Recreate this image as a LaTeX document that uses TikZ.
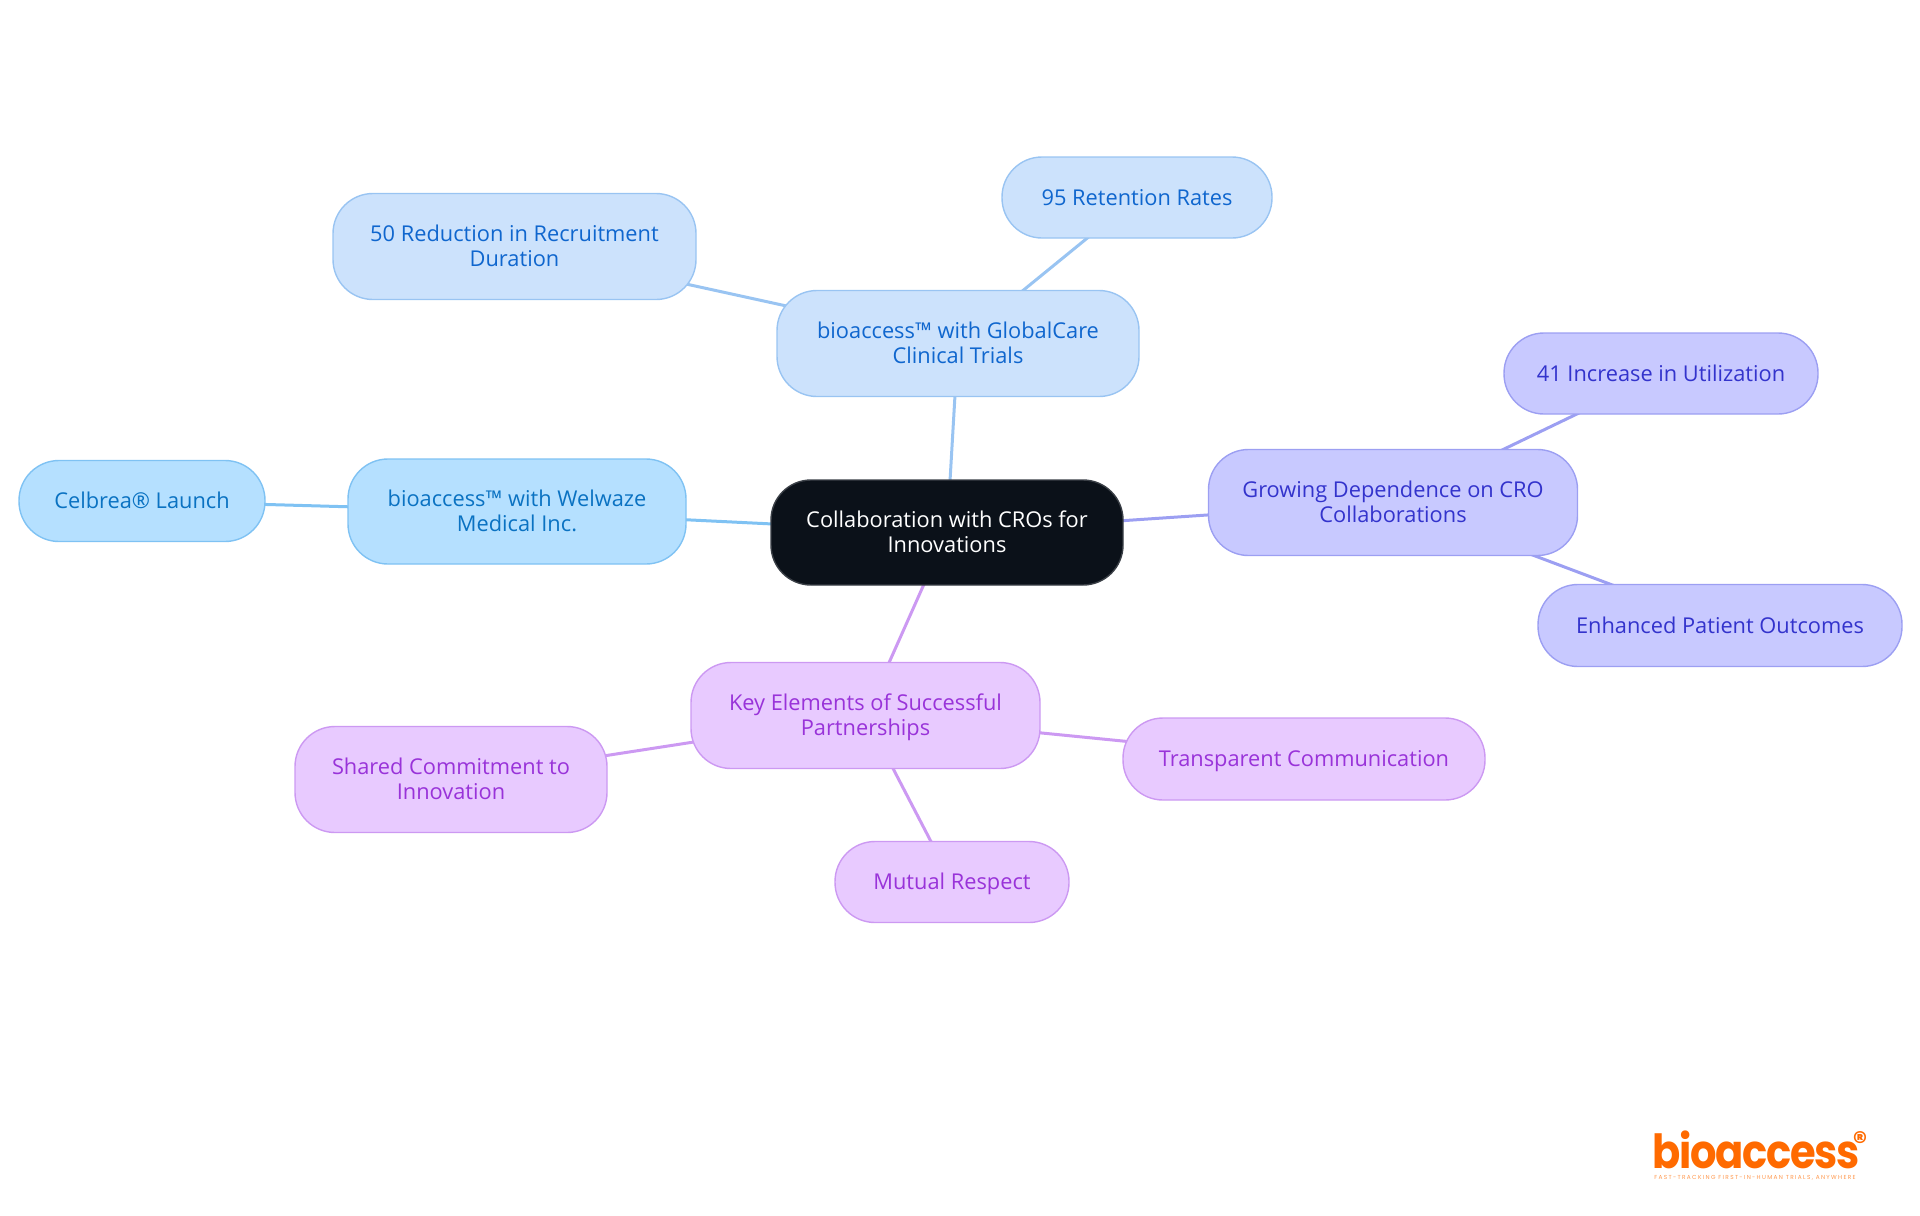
\documentclass[tikz,border=0pt]{standalone}
\usepackage{fontspec}
\setmainfont{Open Sans}
\newfontfamily\logofont[LetterSpace=-3]{Poppins}
\newfontfamily\taglinefont[LetterSpace=23]{Poppins}
\usetikzlibrary{backgrounds}
\definecolor{rootfill}{HTML}{0B1119}
\definecolor{rootedge}{HTML}{3A3F46}
\definecolor{skyfill}{HTML}{B5E0FF}
\definecolor{skyedge}{HTML}{7FC2F3}
\definecolor{skytext}{HTML}{0A72C2}
\definecolor{bluefill}{HTML}{CCE2FC}
\definecolor{blueedge}{HTML}{99C4F2}
\definecolor{bluetext}{HTML}{0F66CE}
\definecolor{indigofill}{HTML}{C8C9FF}
\definecolor{indigoedge}{HTML}{9C9FF2}
\definecolor{indigotext}{HTML}{3333CC}
\definecolor{purplefill}{HTML}{E8CAFF}
\definecolor{purpleedge}{HTML}{CC99F2}
\definecolor{purpletext}{HTML}{9933D9}
\definecolor{logoorange}{HTML}{FF6A00}
\tikzset{
  mapbox/.style={rounded corners=20pt,line width=0.7pt,align=center,inner sep=0pt,
    font=\fontsize{10.9}{12.25}\selectfont,execute at end node=\strut},
  oneline/.style={execute at begin node={\rule{0pt}{11.2pt}}},
  twoline/.style={execute at begin node={\rule{0pt}{23.5pt}}},
  rootbox/.style={mapbox,fill=rootfill,draw=rootedge,text=white},
  skybox/.style={mapbox,fill=skyfill,draw=skyedge,text=skytext},
  bluebox/.style={mapbox,fill=bluefill,draw=blueedge,text=bluetext},
  indigobox/.style={mapbox,fill=indigofill,draw=indigoedge,text=indigotext},
  purplebox/.style={mapbox,fill=purplefill,draw=purpleedge,text=purpletext},
  size/.style 2 args={minimum width=#1*0.5pt,minimum height=#2*0.5pt},
  link/.style={line width=1.5pt}
}
\begin{document}
\begin{tikzpicture}[x=0.5pt,y=-0.5pt]
  \useasboundingbox (0,0) rectangle (1920,1215);
  % centre
  \node[rootbox,twoline,size={352}{105}] (root) at (947,532.5) {Collaboration with CROs for\\Innovations};
  % blue branch
  \node[bluebox,twoline,size={362}{106}] (global) at (958,343.5) {bioaccess™ with GlobalCare\\Clinical Trials};
  \node[bluebox,oneline,size={270}{81}] (retention) at (1137,197.5) {95 Retention Rates};
  \node[bluebox,twoline,size={363}{106}] (reduction) at (514.5,246.5) {50 Reduction in Recruitment\\Duration};
  % sky branch
  \node[skybox,twoline,size={338}{105}] (welwaze) at (517,511.5) {bioaccess™ with Welwaze\\Medical Inc.};
  \node[skybox,oneline,size={246}{81}] (celbrea) at (142,501) {Celbrea® Launch};
  % indigo branch
  \node[indigobox,twoline,size={369}{106}] (growing) at (1393,502.5) {Growing Dependence on CRO\\Collaborations};
  \node[indigobox,oneline,size={314}{81}] (utilization) at (1661,373.5) {41 Increase in Utilization};
  \node[indigobox,oneline,size={364}{82}] (outcomes) at (1720,625.5) {Enhanced Patient Outcomes};
  % purple branch
  \node[purplebox,twoline,size={349}{106}] (key) at (865.5,715.5) {Key Elements of Successful\\Partnerships};
  \node[purplebox,twoline,size={312}{106}] (shared) at (451,779.5) {Shared Commitment to\\Innovation};
  \node[purplebox,oneline,size={362}{82}] (transparent) at (1304,759) {Transparent Communication};
  \node[purplebox,oneline,size={234}{81}] (respect) at (952,882) {Mutual Respect};
  % connectors
  \begin{scope}[on background layer]
    \draw[link,blueedge] (root.center)--(global.center);
    \draw[link,blueedge] (global.center)--(retention.center);
    \draw[link,blueedge] (global.center)--(reduction.center);
    \draw[link,skyedge] (root.center)--(welwaze.center);
    \draw[link,skyedge] (welwaze.center)--(celbrea.center);
    \draw[link,indigoedge] (root.center)--(growing.center);
    \draw[link,indigoedge] (growing.center)--(utilization.center);
    \draw[link,indigoedge] (growing.center)--(outcomes.center);
    \draw[link,purpleedge] (root.center)--(key.center);
    \draw[link,purpleedge] (key.center)--(shared.center);
    \draw[link,purpleedge] (key.center)--(transparent.center);
    \draw[link,purpleedge] (key.center)--(respect.center);
  \end{scope}
  % logo
  \node[text=logoorange,inner sep=0pt,anchor=base,xscale=0.885,font=\logofont\bfseries\fontsize{23.5}{24}\selectfont] (logo) at (1756,1168) {bioaccess};
  \node[text=logoorange,inner sep=0pt,font=\logofont\bfseries\fontsize{14}{14}\selectfont] (logomark) at (1860,1142) {®};
  \node[text=logoorange!70,inner sep=0pt,font=\taglinefont\fontsize{2.9}{3}\selectfont] (tagline) at (1755,1178) {FAST-TRACKING FIRST-IN-HUMAN TRIALS, ANYWHERE};
\end{tikzpicture}
\end{document}
